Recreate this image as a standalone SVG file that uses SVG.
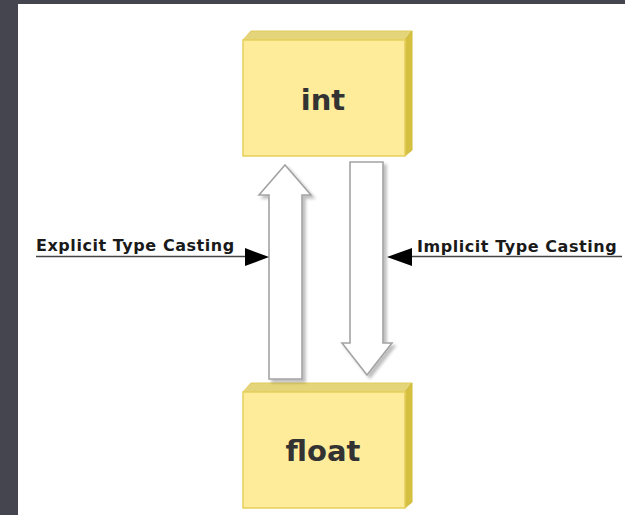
<svg xmlns="http://www.w3.org/2000/svg" width="625" height="515" viewBox="0 0 625 515">
  <defs>
    <style>
      .frame { fill: #45454f; }
      .front { fill: #feec9a; stroke: #e6cf5c; stroke-width: 1.5; }
      .top { fill: #e4d47a; stroke: #e0cb5a; stroke-width: 1; }
      .side { fill: #d5c13f; stroke: #d0bb3c; stroke-width: 1; }
      .node-text { font-family: "DejaVu Sans", Verdana, sans-serif; font-weight: bold; font-size: 29px; fill: #333333; text-anchor: middle; }
      .label { font-family: "DejaVu Sans", Verdana, sans-serif; font-weight: bold; font-size: 16px; letter-spacing: 0.55px; fill: #1a1a1a; }
      .pointer { stroke: #444444; stroke-width: 1.6; fill: none; }
      .tri { fill: #000000; }
      .hollow { fill: #ffffff; stroke: #a3a3a3; stroke-width: 1.6; stroke-linejoin: miter; }
    </style>
    <filter id="shadow" x="-20%" y="-10%" width="150%" height="130%">
      <feDropShadow dx="3" dy="3" stdDeviation="1.5" flood-color="#000000" flood-opacity="0.25"/>
    </filter>
  </defs>

  <!-- page background and dark frame -->
  <rect x="0" y="0" width="625" height="515" fill="#ffffff"/>
  <rect class="frame" x="0" y="0" width="625" height="4"/>
  <rect class="frame" x="0" y="0" width="18" height="515"/>

  <!-- int block -->
  <g id="node-int">
    <polygon class="top" points="243,40 251,31 412,31 405,40"/>
    <polygon class="side" points="405,40 412,31 412,150 405,156"/>
    <rect class="front" x="243" y="40" width="162" height="116"/>
    <text class="node-text" x="323" y="110">int</text>
  </g>

  <!-- float block -->
  <g id="node-float">
    <polygon class="top" points="243,392 251,383 412,383 405,392"/>
    <polygon class="side" points="405,392 412,383 412,502 405,508"/>
    <rect class="front" x="243" y="392" width="162" height="116"/>
    <text class="node-text" x="323" y="461">float</text>
  </g>

  <!-- connectors -->
  <g id="connectors">
    <!-- float to int (explicit) -->
    <polygon class="hollow" filter="url(#shadow)" points="269,379 269,195 259,195 285,165 311,195 302,195 302,379"/>
    <!-- int to float (implicit) -->
    <polygon class="hollow" filter="url(#shadow)" points="350,162 383,162 383,343 392,343 367,375 342,343 350,343"/>

    <!-- explicit label pointer -->
    <line class="pointer" x1="36" y1="256.5" x2="247" y2="256.5"/>
    <polygon class="tri" points="245,248 269,257 245,266"/>
    <text class="label" x="36" y="251">Explicit Type Casting</text>

    <!-- implicit label pointer -->
    <line class="pointer" x1="410" y1="256.5" x2="622" y2="256.5"/>
    <polygon class="tri" points="387,257 412,248 412,266"/>
    <text class="label" x="417" y="252">Implicit Type Casting</text>
  </g>
</svg>
